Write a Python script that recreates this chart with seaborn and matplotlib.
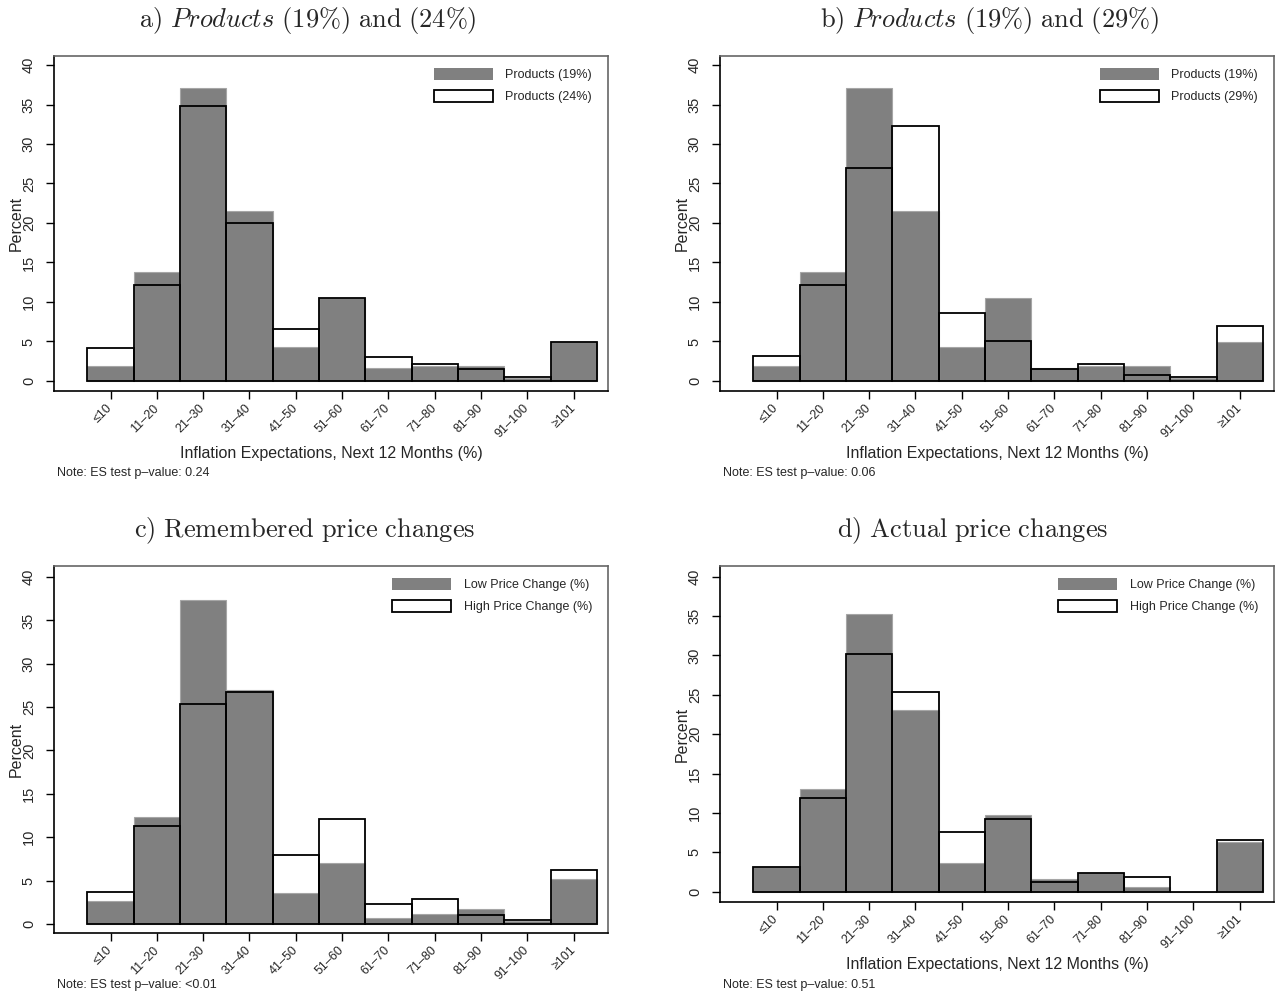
import matplotlib
matplotlib.use("Agg")
import matplotlib.pyplot as plt
import seaborn as sns
import pandas as pd
from matplotlib.patches import Patch

# ---------------- data ----------------
categories = ["≤10", "11–20", "21–30", "31–40", "41–50", "51–60",
              "61–70", "71–80", "81–90", "91–100", "≥101"]

prod19 = [1.9, 13.8, 37.1, 21.5, 4.3, 10.5, 1.6, 1.9, 1.95, 0.35, 4.9]
prod24 = [4.15, 12.2, 34.8, 20.0, 6.6, 10.5, 3.0, 2.2, 1.5, 0.55, 4.9]
prod29 = [3.2, 12.2, 26.9, 32.3, 8.6, 5.1, 1.5, 2.2, 0.7, 0.47, 6.9]

rem_low = [2.6, 12.3, 37.3, 27.0, 3.6, 7.0, 0.7, 1.2, 1.7, 0.3, 5.2]
rem_high = [3.65, 11.25, 25.4, 26.7, 7.9, 12.05, 2.35, 2.9, 1.0, 0.5, 6.25]

act_low = [3.1, 13.0, 35.2, 23.1, 3.6, 9.7, 1.65, 2.4, 0.6, 0.0, 6.3]
act_high = [3.1, 11.9, 30.2, 25.4, 7.6, 9.2, 1.2, 2.4, 1.8, 0.0, 6.6]

titles = [
    r"$\mathrm{a)}\ \mathit{Products\ (19\%)}\ \mathrm{and}\ \mathit{(24\%)}$",
    r"$\mathrm{b)}\ \mathit{Products\ (19\%)}\ \mathrm{and}\ \mathit{(29\%)}$",
    r"$\mathrm{c)\ Remembered\ price\ changes}$",
    r"$\mathrm{d)\ Actual\ price\ changes}$",
]
legend_labels = [
    ("Products (19%)", "Products (24%)"),
    ("Products (19%)", "Products (29%)"),
    ("Low Price Change (%)", "High Price Change (%)"),
    ("Low Price Change (%)", "High Price Change (%)"),
]
notes = ["Note: ES test p–value: 0.24", "Note: ES test p–value: 0.06",
         "Note: ES test p–value: <0.01", "Note: ES test p–value: 0.51"]
xlabel_text = "Inflation Expectations, Next 12 Months (%)"
show_xlabel = [True, True, False, True]
series = [(prod19, prod24), (prod19, prod29), (rem_low, rem_high), (act_low, act_high)]

# ---------------- style ----------------
sns.set_style("white")
plt.rcParams["font.family"] = ["Liberation Sans", "DejaVu Sans"]
plt.rcParams["mathtext.fontset"] = "cm"

W, H = 1276, 998
fig = plt.figure(figsize=(W / 100, H / 100), dpi=100)

# axes boxes in pixel coords: (left, right, top, bottom)
boxes = [(54, 608, 56, 391), (720, 1274, 56, 391),
         (54, 608, 566, 933), (720, 1274, 566, 902)]
ylims = [(-1.27, 41.14), (-1.27, 41.14), (-1.04, 41.27), (-1.32, 41.36)]
title_pos = [(308, 21), (990, 21), (305, 531), (973, 531)]
note_pos = [(57, 473), (723, 473), (57, 985), (723, 985)]

GRAY = "#808080"
for i in range(4):
    l, r, t, b = boxes[i]
    ax = fig.add_axes([l / W, 1 - b / H, (r - l) / W, (b - t) / H])
    low, high = series[i]
    df = pd.DataFrame({"cat": categories, "low": low, "high": high})
    sns.barplot(data=df, x="cat", y="low", color=GRAY, saturation=1, width=1.0,
                edgecolor="#a6a6a6", linewidth=0.8, ax=ax)
    sns.barplot(data=df, x="cat", y="high", fill=False, color="black", width=1.0,
                linewidth=1.3, ax=ax)
    ax.set_xlim(-1.22, 10.74)
    ax.set_ylim(*ylims[i])
    ax.set_yticks(range(0, 41, 5))
    ax.set_yticklabels([str(v) for v in range(0, 41, 5)], rotation=90,
                       va="center", fontsize=10.5)
    ax.set_xticks(range(len(categories)))
    ax.set_xticklabels(categories, rotation=45, ha="right", va="center",
                       rotation_mode="anchor", fontsize=9)
    ax.tick_params(axis="both", direction="out", length=6, width=1, color="black",
                   bottom=True, left=True)
    ax.tick_params(axis="y", pad=7)
    ax.tick_params(axis="x", pad=5)
    for s in ["left", "bottom"]:
        ax.spines[s].set_color("black")
        ax.spines[s].set_linewidth(1.2)
    for s in ["top", "right"]:
        ax.spines[s].set_color("#666666")
        ax.spines[s].set_linewidth(1.2)
    ax.set_ylabel("Percent", fontsize=11.5)
    ax.yaxis.set_label_coords(-30 / (r - l), 0.5)
    if show_xlabel[i]:
        ax.set_xlabel(xlabel_text, fontsize=11.5)
        ax.xaxis.set_label_coords(0.5, -55 / (b - t))
    else:
        ax.set_xlabel("")

    handles = [Patch(facecolor=GRAY, edgecolor=GRAY, linewidth=0),
               Patch(facecolor="white", edgecolor="black", linewidth=1.3)]
    ax.legend(handles, legend_labels[i], loc="upper right",
              bbox_to_anchor=(1 - 16 / (r - l), 1 - 12 / (b - t)),
              frameon=False, fontsize=9, handlelength=4.7, handleheight=1.1,
              handletextpad=1.0, labelspacing=0.7, borderpad=0, borderaxespad=0)

    fig.text(title_pos[i][0] / W, 1 - title_pos[i][1] / H, titles[i],
             ha="center", va="center", fontsize=19)
    fig.text(note_pos[i][0] / W, 1 - note_pos[i][1] / H, notes[i],
             ha="left", va="center", fontsize=9)

fig.savefig("out.png", dpi=100)
